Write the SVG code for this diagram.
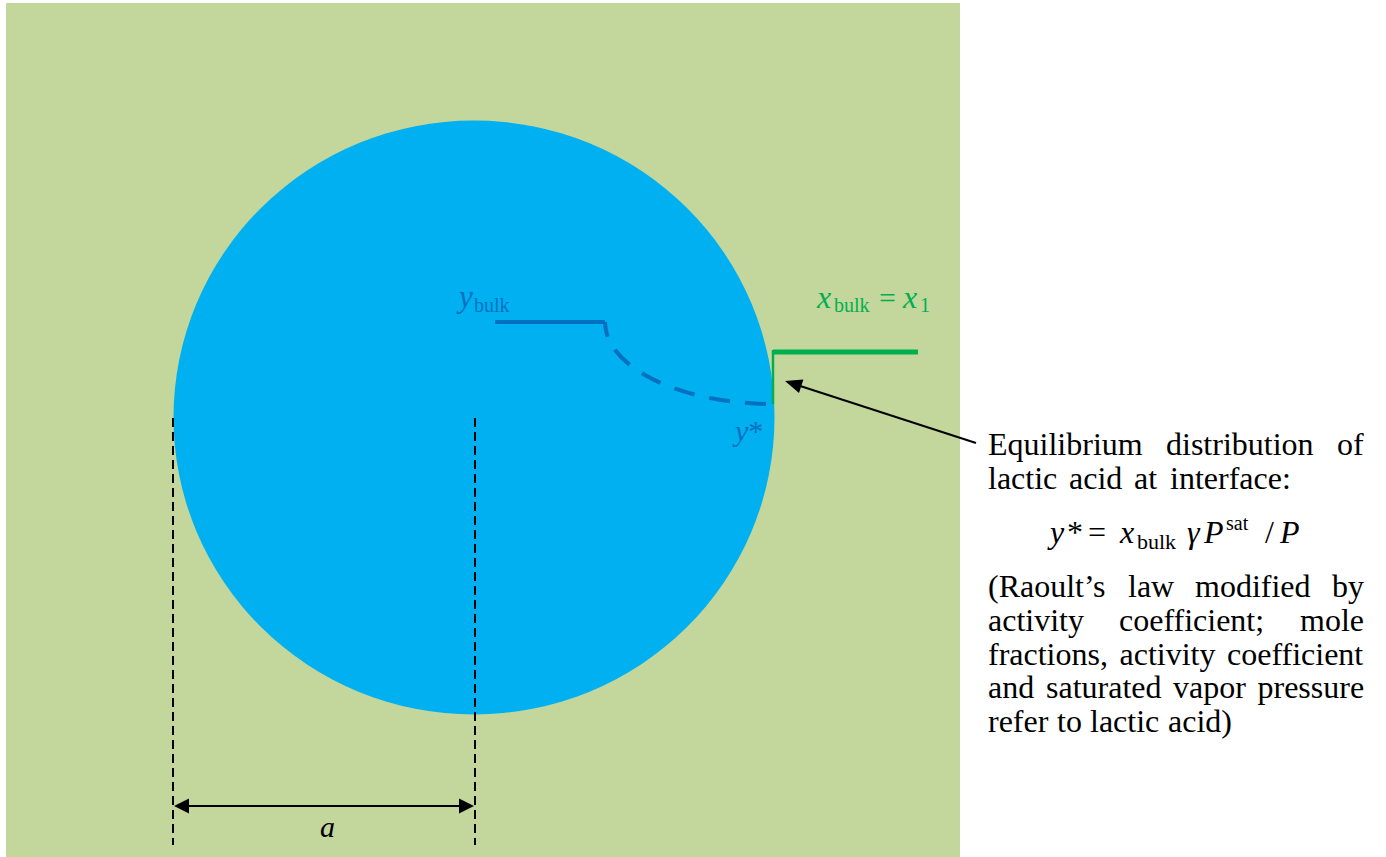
<svg xmlns="http://www.w3.org/2000/svg" width="1386" height="857" viewBox="0 0 1386 857">
<style>
text{font-family:"Liberation Serif","Times New Roman","DejaVu Serif",serif;}
.it{font-style:italic;}
.body{font-size:32px;fill:#000;}
.blue{fill:#0070C0;}
.green{fill:#00B050;}
.dim{stroke:#000;stroke-width:2;stroke-dasharray:9 5;fill:none;}
</style>
<rect x="0" y="0" width="1386" height="857" fill="#FFFFFF"/>
<g id="background">
<rect x="6" y="3" width="954" height="854" fill="#C3D69B"/>
</g>
<g id="droplet">
<ellipse cx="474" cy="417.5" rx="300.5" ry="297" fill="#00B0F0"/>
</g>
<g id="profiles">
<line x1="495" y1="322" x2="605" y2="322" stroke="#0070C0" stroke-width="4"/>
<path d="M605,322 A168,82 0 0 0 773,404" fill="none" stroke="#0070C0" stroke-width="4" stroke-dasharray="21 15" stroke-dashoffset="6"/>
<line x1="773" y1="352" x2="918" y2="352" stroke="#00B050" stroke-width="5"/>
<line x1="773" y1="350" x2="773" y2="404" stroke="#00B050" stroke-width="2.5"/>
</g>
<g id="labels">
<text x="459" y="307" font-size="31" class="it blue">y</text>
<text x="474" y="312" font-size="20" class="blue">bulk</text>
<text x="735" y="441" font-size="30" class="blue"><tspan class="it">y</tspan>*</text>
<text x="817" y="308" font-size="32" class="it green">x</text>
<text x="834" y="312" font-size="20" class="green">bulk</text>
<text x="879" y="308" font-size="30" class="green">=</text>
<text x="903" y="308" font-size="32" class="it green">x</text>
<text x="920" y="312" font-size="20" class="green">1</text>
<text x="320" y="837" font-size="30" class="it" fill="#000">a</text>
</g>
<g id="connectors">
<line class="dim" x1="173" y1="418" x2="173" y2="845"/>
<line class="dim" x1="475" y1="418" x2="475" y2="845"/>
<line x1="188" y1="806" x2="460" y2="806" stroke="#000" stroke-width="2"/>
<polygon points="174,806 189,798.5 189,813.5" fill="#000"/>
<polygon points="474,806 459,798.5 459,813.5" fill="#000"/>
<line x1="976" y1="443" x2="801" y2="386.3" stroke="#000" stroke-width="2"/>
<polygon points="785,381 799,393 803.4,379.6" fill="#000"/>
</g>
<g id="note" class="body">
<text y="455"><tspan x="988">Equilibrium</tspan><tspan x="1166">distribution</tspan><tspan x="1337">of</tspan></text>
<text y="489"><tspan x="988">lactic</tspan><tspan x="1069">acid</tspan><tspan x="1134">at</tspan><tspan x="1170">interface:</tspan></text>
<text y="543"><tspan x="1050" class="it">y</tspan><tspan x="1067">*</tspan><tspan x="1088">=</tspan><tspan x="1120" class="it">x</tspan><tspan x="1137" y="549" font-size="22">bulk</tspan><tspan x="1187" y="543" class="it">γ</tspan><tspan x="1204" class="it">P</tspan><tspan x="1226" y="530" font-size="20">sat</tspan><tspan x="1265" y="543">/</tspan><tspan x="1280" class="it">P</tspan></text>
<text y="597"><tspan x="988">(Raoult’s</tspan><tspan x="1128">law</tspan><tspan x="1195">modified</tspan><tspan x="1332">by</tspan></text>
<text y="631"><tspan x="988">activity</tspan><tspan x="1119">coefficient;</tspan><tspan x="1300">mole</tspan></text>
<text y="665"><tspan x="988">fractions,</tspan><tspan x="1119.5">activity</tspan><tspan x="1227">coefficient</tspan></text>
<text y="698"><tspan x="988">and</tspan><tspan x="1046">saturated</tspan><tspan x="1173">vapor</tspan><tspan x="1257.5">pressure</tspan></text>
<text y="732"><tspan x="988">refer</tspan><tspan x="1057">to</tspan><tspan x="1090">lactic</tspan><tspan x="1168">acid)</tspan></text>
</g>
</svg>
